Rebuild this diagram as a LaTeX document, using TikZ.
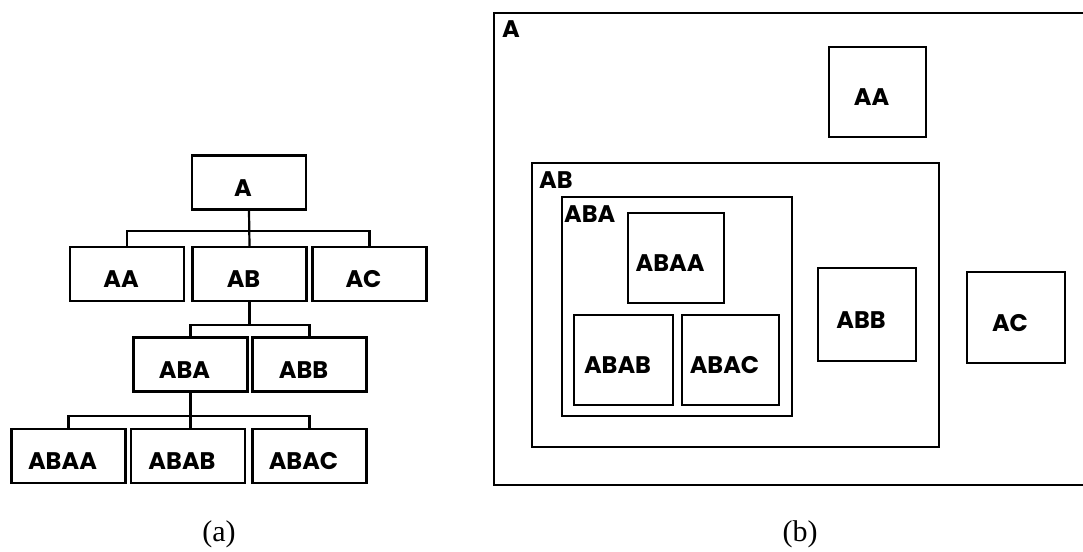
\documentclass[tikz,border=0pt]{standalone}
\usepackage{fontspec}
\newfontfamily\boxfont{Poppins}
\newfontfamily\capfont{Liberation Serif}
\usetikzlibrary{positioning}

\begin{document}
\begin{tikzpicture}[
        x=1pt, y=-1pt,
        every node/.style={inner sep=0pt},
        boxtext/.style={font=\boxfont\bfseries\fontsize{24}{28}\selectfont},
        treebox/.style={draw, line width=2.2pt, minimum width=114pt, minimum height=54pt, boxtext,
            text height=27pt, text depth=0pt, execute at begin node={\hspace*{-12pt}}},
        nestbox/.style n args={2}{draw, line width=2.2pt, minimum width=#1, minimum height=#2, boxtext,
            text height=27pt, text depth=0pt, execute at begin node={\hspace*{-12pt}}},
        cornerlbl/.style={boxtext, anchor=base west},
        conn/.style={line width=2.2pt},
        caption/.style={font=\capfont\fontsize{30}{34}\selectfont, anchor=base}
    ]
    \useasboundingbox (0,0) rectangle (1083,551);
    \clip (0,0) rectangle (1083,551);

    % --- (a) tree ---
    \node[treebox] (tA) at (249,182.5) {A};
    \node[treebox] (tAA) at (127,274) {AA};
    \node[treebox] (tAB) at (249.5,274) {AB};
    \node[treebox] (tAC) at (369.5,274) {AC};
    \node[treebox] (tABA) at (190.5,364.5) {ABA};
    \node[treebox] (tABB) at (309.5,364.5) {ABB};
    \node[treebox] (tABAA) at (68.5,456) {ABAA};
    \node[treebox] (tABAB) at (188,456) {ABAB};
    \node[treebox] (tABAC) at (309.5,456) {ABAC};

    % connectors
    \path (tA.south) ++(0,20) coordinate (j1);
    \draw[conn] (tA.south) -- (tAB.north);
    \draw[conn] (tAA.north) |- (j1) -| (tAC.north);

    \path (tAB.south) ++(0,23) coordinate (j2);
    \draw[conn] (tAB.south) -- (j2);
    \draw[conn] (tABA.north) |- (j2) -| (tABB.north);

    \path (tABA.south) ++(0,23) coordinate (j3);
    \draw[conn] (tABA.south) -- (j3);
    \draw[conn] (tABAA.north) |- (j3) -| (tABAC.north);
    \draw[conn] (j3) -- (j3 |- tABAB.north);

    \node[caption] (capa) at (219,541) {(a)};

    % --- (b) nested boxes ---
    \node[nestbox={606pt}{472pt}] (bA) at (797,249) {};
    \node[nestbox={97pt}{90pt}] (bAA) at (877.5,92) {AA};
    \node[nestbox={407pt}{284pt}] (bAB) at (735.5,305) {};
    \node[nestbox={230pt}{219pt}] (bABA) at (677,306.5) {};
    \node[nestbox={96pt}{90pt}] (bABAA) at (676,258) {ABAA};
    \node[nestbox={99pt}{90pt}] (bABAB) at (623.5,360) {ABAB};
    \node[nestbox={97pt}{90pt}] (bABAC) at (730.5,360) {ABAC};
    \node[nestbox={98pt}{93pt}] (bABB) at (867,314.5) {ABB};
    \node[nestbox={98pt}{91pt}] (bAC) at (1016,317.5) {AC};

    % corner labels
    \node[cornerlbl] (lA) at ([shift={(9,26)}]bA.north west) {A};
    \node[cornerlbl] (lAB) at ([shift={(8,27)}]bAB.north west) {AB};
    \node[cornerlbl] (lABA) at ([shift={(3,27)}]bABA.north west) {ABA};

    \node[caption] (capb) at (800,541) {(b)};
\end{tikzpicture}
\end{document}
